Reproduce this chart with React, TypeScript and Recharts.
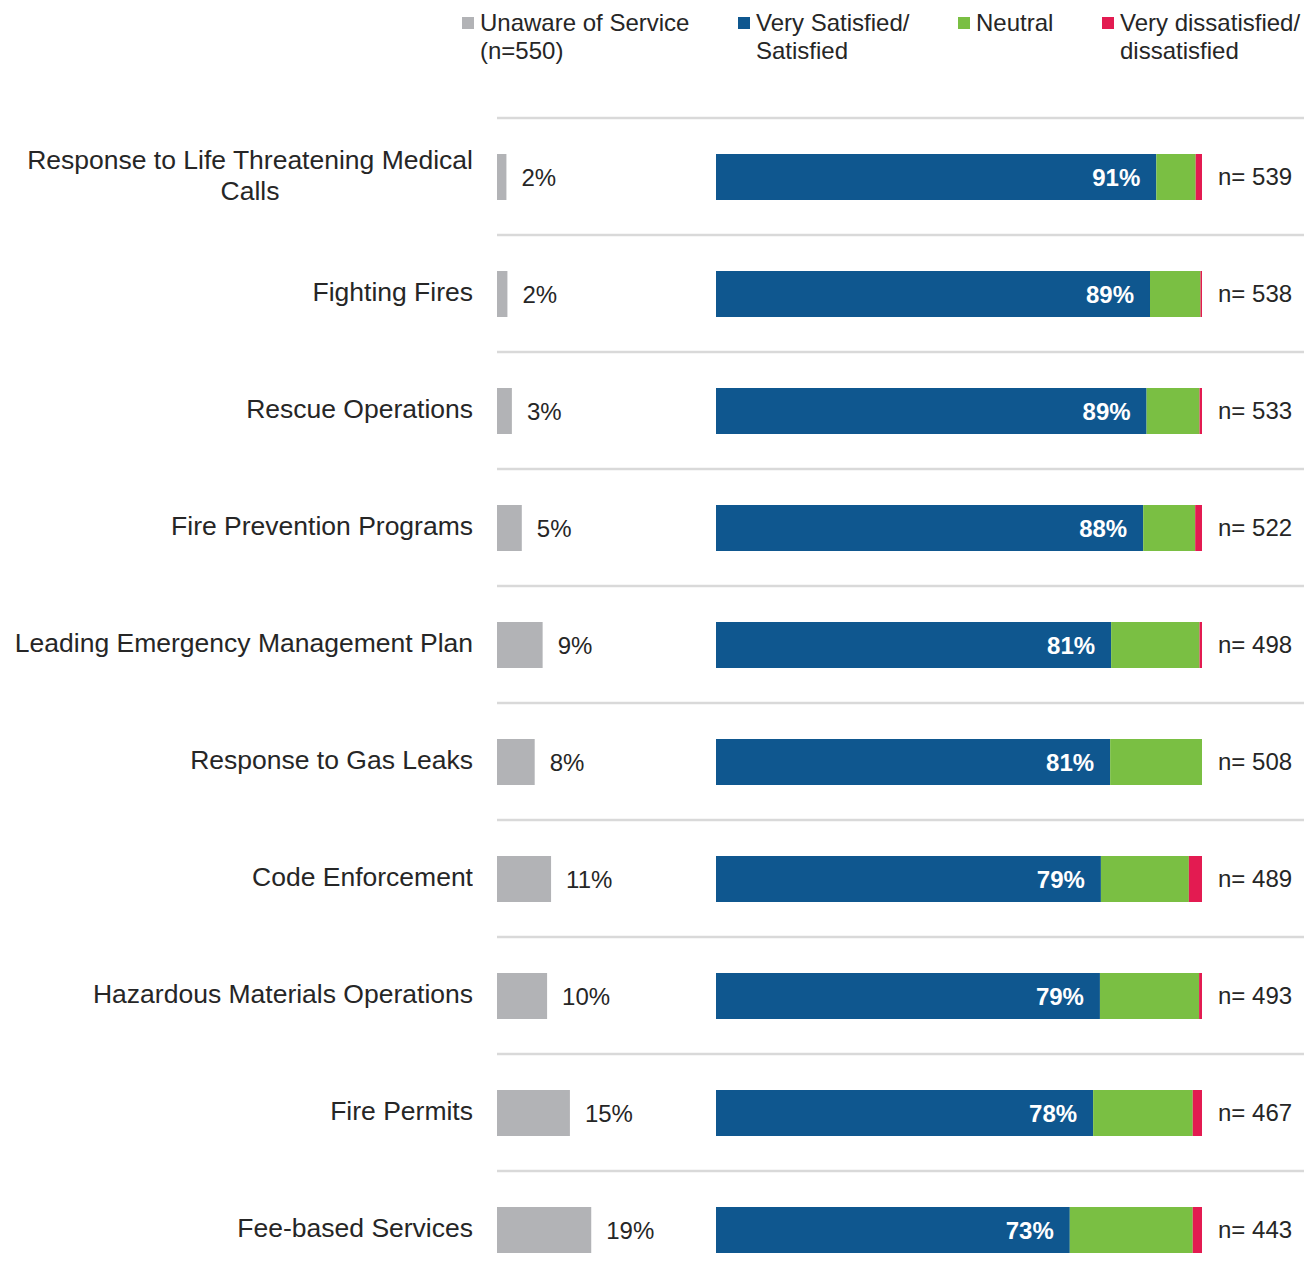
import React from 'react';
import { BarChart, Bar, XAxis, YAxis, ReferenceLine, LabelList } from 'recharts';

const categories = [
  'Response to Life Threatening Medical\nCalls',
  'Fighting Fires',
  'Rescue Operations',
  'Fire Prevention Programs',
  'Leading Emergency Management Plan',
  'Response to Gas Leaks',
  'Code Enforcement',
  'Hazardous Materials Operations',
  'Fire Permits',
  'Fee-based Services',
];
const unaware = [1.9, 2.1, 3.0, 5.0, 9.2, 7.6, 10.9, 10.1, 14.7, 19.0];
const satisfied = [90.6, 89.3, 88.6, 87.9, 81.3, 81.1, 79.2, 79.0, 77.6, 72.8];
const neutral = [8.1, 10.4, 10.9, 10.7, 18.2, 18.9, 18.1, 20.4, 20.5, 25.3];
const dissatisfied = [1.3, 0.3, 0.5, 1.4, 0.5, 0, 2.7, 0.6, 1.9, 1.9];
const respondents = [539, 538, 533, 522, 498, 508, 489, 493, 467, 443];

const legendItems = [
  { label: 'Unaware of Service\n(n=550)', color: '#b2b3b6', left: 462 },
  { label: 'Very Satisfied/\nSatisfied', color: '#0f578f', left: 738 },
  { label: 'Neutral', color: '#7abf43', left: 958 },
  { label: 'Very dissatisfied/\ndissatisfied', color: '#e31b51', left: 1102 },
];

const COLORS = {
  gray: '#b2b3b6',
  blue: '#0f578f',
  green: '#7abf43',
  red: '#e31b51',
  grid: '#d9d9d9',
  text: '#262626',
};

const FONT = "'Liberation Sans', Arial, Helvetica, sans-serif";

const data = categories.map((name, i) => ({
  name,
  unaware: unaware[i],
  satisfied: satisfied[i],
  neutral: neutral[i],
  dissatisfied: dissatisfied[i],
  n: respondents[i],
}));

const LABEL_BOX = 473;

const CategoryTick = (props: any) => {
  const { x, y, payload } = props;
  return (
    <foreignObject x={x - LABEL_BOX} y={y - 40} width={LABEL_BOX} height={80}>
      <div
        style={{
          width: '100%',
          height: '100%',
          display: 'flex',
          alignItems: 'center',
          justifyContent: 'flex-end',
        }}
      >
        <div
          style={{
            textAlign: 'center',
            whiteSpace: 'pre-line',
            fontSize: 26.5,
            lineHeight: '31px',
            color: COLORS.text,
            fontFamily: FONT,
            marginTop: -2,
          }}
        >
          {payload.value}
        </div>
      </div>
    </foreignObject>
  );
};

const pct = (v: any) => `${Math.round(Number(v))}%`;

const W = 1304;
const H = 1288;
const TOP = 118;

export default function App() {
  return (
    <div
      style={{
        position: 'absolute',
        left: 0,
        top: 0,
        width: W,
        height: 1280,
        overflow: 'hidden',
        background: '#fff',
        fontFamily: FONT,
      }}
    >
      {legendItems.map((item) => (
        <div key={item.label}>
          <div
            style={{
              position: 'absolute',
              left: item.left,
              top: 17,
              width: 12,
              height: 12,
              background: item.color,
            }}
          />
          <div
            style={{
              position: 'absolute',
              left: item.left + 18,
              top: 9,
              fontSize: 24,
              lineHeight: '28px',
              whiteSpace: 'pre',
              color: COLORS.text,
            }}
          >
            {item.label}
          </div>
        </div>
      ))}

      <div style={{ position: 'absolute', left: 0, top: 0 }}>
        <BarChart
          width={W}
          height={H}
          data={data}
          layout="vertical"
          margin={{ top: TOP, right: 0, bottom: 0, left: 0 }}
          barCategoryGap={0}
        >
          <XAxis type="number" domain={[0, 162.7]} hide />
          <YAxis
            type="category"
            dataKey="name"
            width={497}
            interval={0}
            tickLine={false}
            axisLine={false}
            tickSize={0}
            tickMargin={24}
            tick={<CategoryTick />}
          />
          {categories.map((c) => (
            <ReferenceLine
              key={c}
              y={c}
              position="start"
              stroke={COLORS.grid}
              strokeWidth={2.5}
              ifOverflow="visible"
            />
          ))}
          <Bar dataKey="unaware" fill={COLORS.gray} barSize={46} isAnimationActive={false}>
            <LabelList
              dataKey="unaware"
              position="right"
              offset={15}
              formatter={pct}
              fill={COLORS.text}
              fontSize={24}
              fontFamily={FONT}
            />
          </Bar>
        </BarChart>
      </div>

      <div style={{ position: 'absolute', left: 0, top: 0 }}>
        <BarChart
          width={W}
          height={H}
          data={data}
          layout="vertical"
          margin={{ top: TOP, right: 0, bottom: 0, left: 716 }}
          barCategoryGap={0}
        >
          <XAxis type="number" domain={[0, 100]} hide />
          <YAxis type="category" dataKey="name" hide />
          <YAxis
            yAxisId="n"
            orientation="right"
            type="category"
            dataKey="name"
            width={102}
            interval={0}
            tickLine={false}
            axisLine={false}
            tickSize={0}
            tickMargin={16}
            tickFormatter={(_v: any, i: number) => `n= ${respondents[i]}`}
            tick={{ fill: COLORS.text, fontSize: 24, fontFamily: FONT }}
          />
          <Bar dataKey="satisfied" stackId="s" fill={COLORS.blue} barSize={46} isAnimationActive={false}>
            <LabelList
              dataKey="satisfied"
              position="insideRight"
              offset={16}
              formatter={pct}
              fill="#ffffff"
              fontSize={24}
              fontWeight="bold"
              fontFamily={FONT}
            />
          </Bar>
          <Bar dataKey="neutral" stackId="s" fill={COLORS.green} barSize={46} isAnimationActive={false} />
          <Bar dataKey="dissatisfied" stackId="s" fill={COLORS.red} barSize={46} isAnimationActive={false} />
        </BarChart>
      </div>
    </div>
  );
}
